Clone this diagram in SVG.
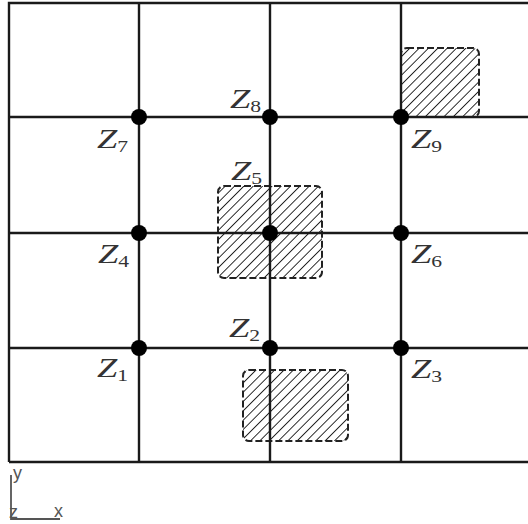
<svg xmlns="http://www.w3.org/2000/svg" width="528" height="524" viewBox="0 0 528 524">
  <style>
    .grid { stroke: #1a1a1a; stroke-width: 2.4; fill: none; }
    .dot { fill: #000; }
    .lbl { font-family: "Liberation Serif", "DejaVu Serif", serif; font-style: italic; font-size: 27px; fill: #333; }
    .sub { font-size: 16px; font-style: normal; }
    .zone { fill: url(#hatch); stroke: #222; stroke-width: 2; stroke-dasharray: 7 3; }
    .ax { stroke: #555; stroke-width: 1.8; fill: none; }
    .axt { font-family: "Liberation Sans", "DejaVu Sans", sans-serif; font-size: 18px; fill: #555; }
  </style>
  <defs>
    <pattern id="hatch" patternUnits="userSpaceOnUse" width="6.6" height="6.6" patternTransform="rotate(45)">
      <line x1="0" y1="0" x2="0" y2="6.6" stroke="#222" stroke-width="1.9"/>
    </pattern>
  </defs>
  <rect width="528" height="524" fill="#fff"/>

  <g id="zones">
    <rect class="zone" x="401" y="48" width="78" height="69" rx="6"/>
    <rect class="zone" x="218" y="186" width="104" height="92" rx="6"/>
    <rect class="zone" x="243" y="370" width="105" height="71" rx="6"/>
  </g>

  <g id="connectors">
    <path class="grid" d="M9 462 V3 H528"/>
    <path class="grid" d="M9 462 H528"/>
    <path class="grid" d="M139 3 V462 M270 3 V462 M401 3 V462"/>
    <path class="grid" d="M9 117 H528 M9 233 H528 M9 348 H528"/>
  </g>

  <g id="Z1"><circle class="dot" cx="139" cy="348" r="8"/><text class="lbl" transform="translate(97 377) scale(1.35 1)">Z<tspan class="sub" dy="4">1</tspan></text></g>
  <g id="Z2"><circle class="dot" cx="270" cy="348" r="8"/><text class="lbl" transform="translate(229 337) scale(1.35 1)">Z<tspan class="sub" dy="4">2</tspan></text></g>
  <g id="Z3"><circle class="dot" cx="401" cy="348" r="8"/><text class="lbl" transform="translate(411 378) scale(1.35 1)">Z<tspan class="sub" dy="4">3</tspan></text></g>
  <g id="Z4"><circle class="dot" cx="139" cy="233" r="8"/><text class="lbl" transform="translate(98 263) scale(1.35 1)">Z<tspan class="sub" dy="4">4</tspan></text></g>
  <g id="Z5"><circle class="dot" cx="270" cy="233" r="8"/><text class="lbl" transform="translate(231 180) scale(1.35 1)">Z<tspan class="sub" dy="4">5</tspan></text></g>
  <g id="Z6"><circle class="dot" cx="401" cy="233" r="8"/><text class="lbl" transform="translate(411 263) scale(1.35 1)">Z<tspan class="sub" dy="4">6</tspan></text></g>
  <g id="Z7"><circle class="dot" cx="139" cy="117" r="8"/><text class="lbl" transform="translate(97 148) scale(1.35 1)">Z<tspan class="sub" dy="4">7</tspan></text></g>
  <g id="Z8"><circle class="dot" cx="270" cy="117" r="8"/><text class="lbl" transform="translate(230 108) scale(1.35 1)">Z<tspan class="sub" dy="4">8</tspan></text></g>
  <g id="Z9"><circle class="dot" cx="401" cy="117" r="8"/><text class="lbl" transform="translate(411 148) scale(1.35 1)">Z<tspan class="sub" dy="4">9</tspan></text></g>

  <g id="axes">
    <path class="ax" d="M11 475 V519 H60"/>
    <text class="axt" x="13" y="479">y</text>
    <text class="axt" x="9" y="518">z</text>
    <text class="axt" x="54" y="517">x</text>
  </g>
</svg>
